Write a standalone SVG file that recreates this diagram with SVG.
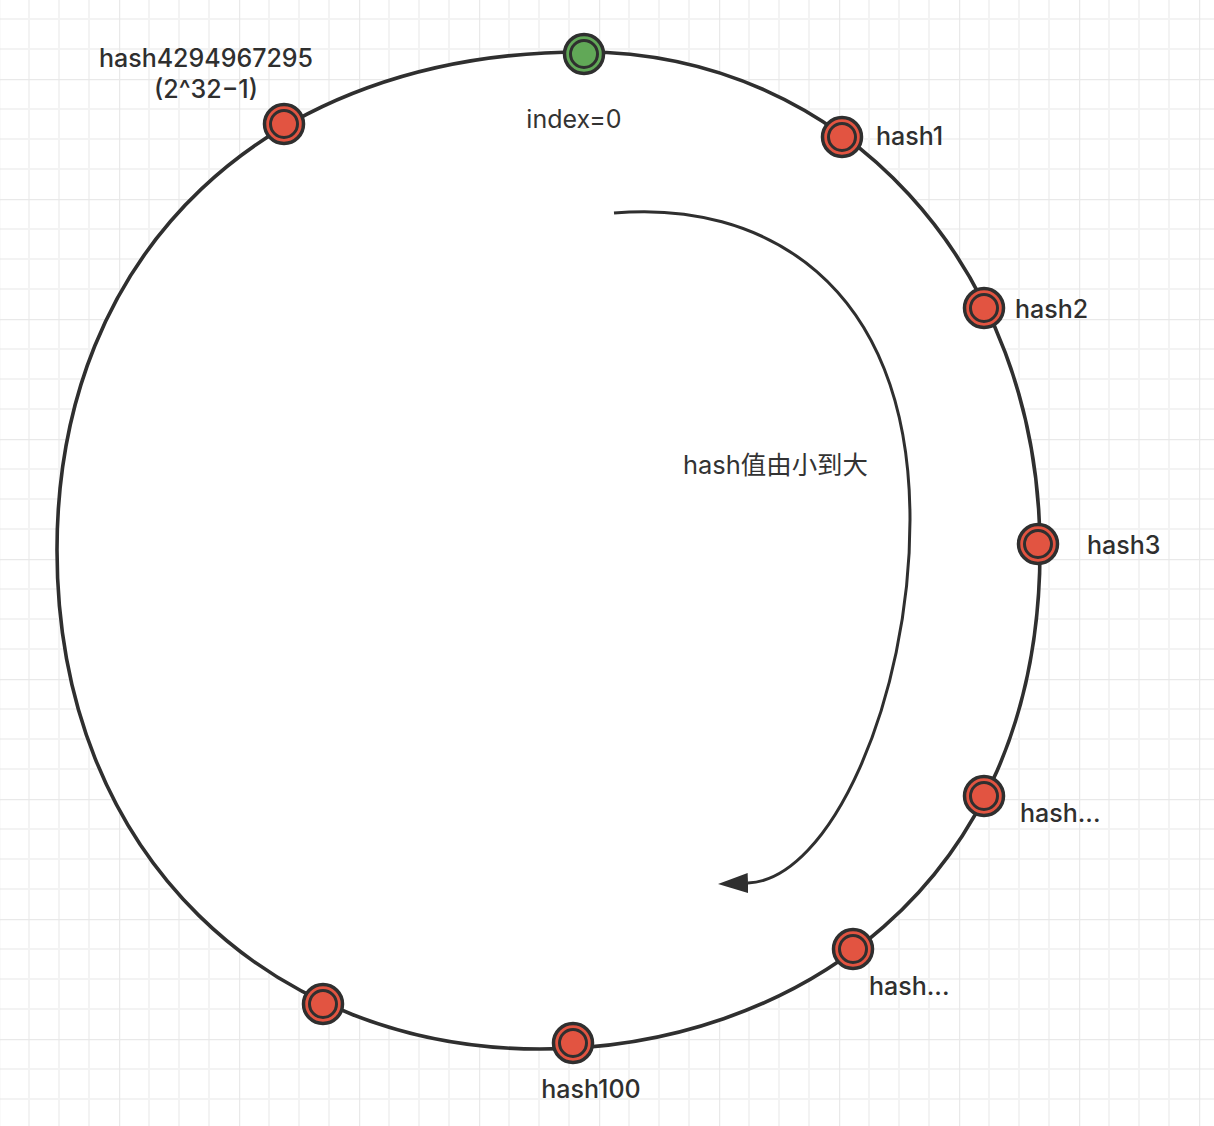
<svg xmlns="http://www.w3.org/2000/svg" width="1214" height="1126" viewBox="0 0 1214 1126">
  <defs>
    <pattern id="grid" patternUnits="userSpaceOnUse" x="-1" y="-41" width="120" height="120">
      <path d="M30,0 V120 M60,0 V120 M90,0 V120 M0,30 H120 M0,60 H120 M0,90 H120" stroke="#f3f3f3" stroke-width="2" fill="none"/>
      <path d="M0,0 V120 M0,0 H120" stroke="#e9e9e9" stroke-width="2.5" fill="none"/>
    </pattern>
    <marker id="arrow" markerUnits="userSpaceOnUse" viewBox="0 0 30 20" markerWidth="30" markerHeight="20" refX="0" refY="10" orient="auto">
      <path d="M0,0 L30,10 L0,20 Z" fill="#2f2f2f"/>
    </marker>
    <style>
      .ring { fill: #ffffff; stroke: #2f2f2f; stroke-width: 3.6; }
      .flow { fill: none; stroke: #2f2f2f; stroke-width: 3; }
      .red { fill: #e25441; stroke: #2f2f2f; }
      .green { fill: #61a857; stroke: #2f2f2f; }
      .outer { stroke-width: 3.5; }
      .inner { stroke-width: 3; }
      .lbl { font-family: Inter, "Liberation Sans", "Noto Sans CJK SC", sans-serif; font-size: 25px; font-weight: 500; fill: #2f2f2f; }
      .note { font-family: Inter, "Liberation Sans", "Noto Sans CJK SC", sans-serif; font-size: 25px; font-weight: 400; fill: #333333; }
    </style>
  </defs>

  <rect x="0" y="0" width="1214" height="1126" fill="#ffffff"/>
  <rect x="0" y="0" width="1214" height="1126" fill="url(#grid)"/>

  <g id="connectors">
    <path id="hash-ring" class="ring" d="M583,52 C843,52 1040,266 1040,550 C1040,889 790,1049 540,1049 C274,1049 57,859 57,550 C57,251 267,52 583,52 Z"/>
    <path id="direction-arrow" class="flow" d="M614,213 C760,200 910,280 910,520 C910,700 830,880 748,883" marker-end="url(#arrow)"/>
  </g>

  <g id="label-direction">
    <text class="note" x="683" y="474" textLength="185" lengthAdjust="spacingAndGlyphs">hash值由小到大</text>
  </g>

  <g id="node-index0">
    <circle class="green outer" cx="584" cy="54" r="19.5"/>
    <circle class="green inner" cx="584" cy="54" r="13.5"/>
    <text class="note" x="574" y="128" text-anchor="middle">index=0</text>
  </g>

  <g id="node-hash1">
    <circle class="red outer" cx="842" cy="137" r="19.5"/>
    <circle class="red inner" cx="842" cy="137" r="13.5"/>
    <text class="lbl" x="876" y="145">hash1</text>
  </g>

  <g id="node-hash2">
    <circle class="red outer" cx="984" cy="308" r="19.5"/>
    <circle class="red inner" cx="984" cy="308" r="13.5"/>
    <text class="lbl" x="1015" y="318">hash2</text>
  </g>

  <g id="node-hash3">
    <circle class="red outer" cx="1038" cy="544" r="19.5"/>
    <circle class="red inner" cx="1038" cy="544" r="13.5"/>
    <text class="lbl" x="1087" y="554">hash3</text>
  </g>

  <g id="node-hash-a">
    <circle class="red outer" cx="984" cy="796" r="19.5"/>
    <circle class="red inner" cx="984" cy="796" r="13.5"/>
    <text class="lbl" x="1020" y="822">hash...</text>
  </g>

  <g id="node-hash-b">
    <circle class="red outer" cx="853" cy="949" r="19.5"/>
    <circle class="red inner" cx="853" cy="949" r="13.5"/>
    <text class="lbl" x="869" y="995">hash...</text>
  </g>

  <g id="node-hash100">
    <circle class="red outer" cx="573" cy="1043" r="19.5"/>
    <circle class="red inner" cx="573" cy="1043" r="13.5"/>
    <text class="lbl" x="591" y="1098" text-anchor="middle">hash100</text>
  </g>

  <g id="node-unlabeled">
    <circle class="red outer" cx="323" cy="1004" r="19.5"/>
    <circle class="red inner" cx="323" cy="1004" r="13.5"/>
  </g>

  <g id="node-hashmax">
    <circle class="red outer" cx="284" cy="124" r="19.5"/>
    <circle class="red inner" cx="284" cy="124" r="13.5"/>
    <text class="lbl" x="206" y="67" text-anchor="middle">hash4294967295</text>
    <text class="lbl" x="206" y="98" text-anchor="middle">(2^32−1)</text>
  </g>
</svg>
